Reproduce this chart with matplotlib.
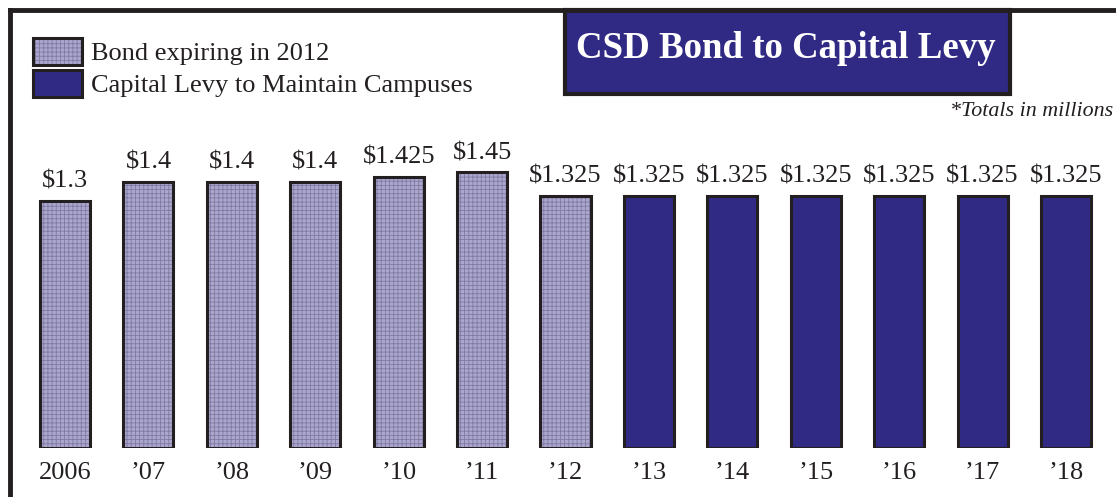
import matplotlib
matplotlib.use("Agg")
import matplotlib.pyplot as plt
from matplotlib.patches import Patch, Rectangle
from matplotlib.lines import Line2D

plt.rcParams['font.family'] = ['Liberation Serif', 'DejaVu Serif']
plt.rcParams['hatch.linewidth'] = 0.6

years = ['2006', '\u201907', '\u201908', '\u201909', '\u201910', '\u201911', '\u201912',
         '\u201913', '\u201914', '\u201915', '\u201916', '\u201917', '\u201918']
values = [1.3, 1.4, 1.4, 1.4, 1.425, 1.45, 1.325,
          1.325, 1.325, 1.325, 1.325, 1.325, 1.325]
is_bond = [True] * 7 + [False] * 6
legend_labels = ['Bond expiring in 2012', 'Capital Levy to Maintain Campuses']
title = 'CSD Bond to Capital Levy'
note = '*Totals in millions'

bond_face = '#aba6d0'
bond_hatch = '#807b9e'
levy_face = '#312a84'
edge = '#231f20'

fig = plt.figure(figsize=(11.16, 4.97), dpi=100)
ax = fig.add_axes([0, 49 / 497, 1, 448 / 497])
ax.set_xlim(-0.78, 12.6)
ax.set_ylim(0, 448 / 190)

x = list(range(len(years)))
bx = [i for i in x if is_bond[i]]
bv = [values[i] for i in x if is_bond[i]]
lx = [i for i in x if not is_bond[i]]
lv = [values[i] for i in x if not is_bond[i]]

# hatched fill first (hatch takes the edge colour), then the black outline
ax.bar(bx, bv, width=0.6, color=bond_face, edgecolor=bond_hatch, hatch='++++', linewidth=0)
ax.bar(lx, lv, width=0.6, color=levy_face, linewidth=0)
ax.bar(x, values, width=0.6, facecolor='none', edgecolor=edge, linewidth=2.2)

for i, v in zip(x, values):
    ax.annotate(f'${v:g}', (i, v), xytext=(0, 6), textcoords='offset points',
                ha='center', va='bottom', fontsize=19, color='#231f20')

ax.set_xticks(x)
ax.set_xticklabels(years, fontsize=19, color='#231f20')
ax.tick_params(axis='x', length=0, pad=10)
ax.set_yticks([])
for s in ax.spines.values():
    s.set_visible(False)
ax.patch.set_alpha(0)

# legend
h1 = (Patch(facecolor=bond_face, edgecolor=bond_hatch, hatch='++++', linewidth=0),
      Patch(facecolor='none', edgecolor=edge, linewidth=2.2))
h2 = Patch(facecolor=levy_face, edgecolor=edge, linewidth=2.2)
fig.legend([h1, h2], legend_labels, loc='upper left',
           bbox_to_anchor=(33 / 1116, 1 - 38 / 497), frameon=False,
           fontsize=19, handlelength=1.85, handleheight=1.18,
           labelspacing=0.18, handletextpad=0.35, borderpad=0, borderaxespad=0,
           labelcolor='#231f20')

# frame
fig.add_artist(Line2D([10 / 1116, 1], [1 - 10 / 497] * 2, color=edge, lw=3.5))
fig.add_artist(Line2D([10 / 1116] * 2, [0, 1 - 10 / 497], color=edge, lw=3.5))

# title box
fig.add_artist(Rectangle((565 / 1116, 1 - 94 / 497), 445 / 1116, 84 / 497,
                         transform=fig.transFigure, facecolor=levy_face,
                         edgecolor=edge, linewidth=3))
fig.text(786 / 1116, 1 - 49 / 497, title, ha='center', va='center',
         fontsize=26.6, fontweight='bold', color='white')
fig.text(1113 / 1116, 1 - 112 / 497, note, ha='right', va='center',
         fontsize=15.8, style='italic', color='#231f20')

fig.savefig('out.png', dpi=100)
